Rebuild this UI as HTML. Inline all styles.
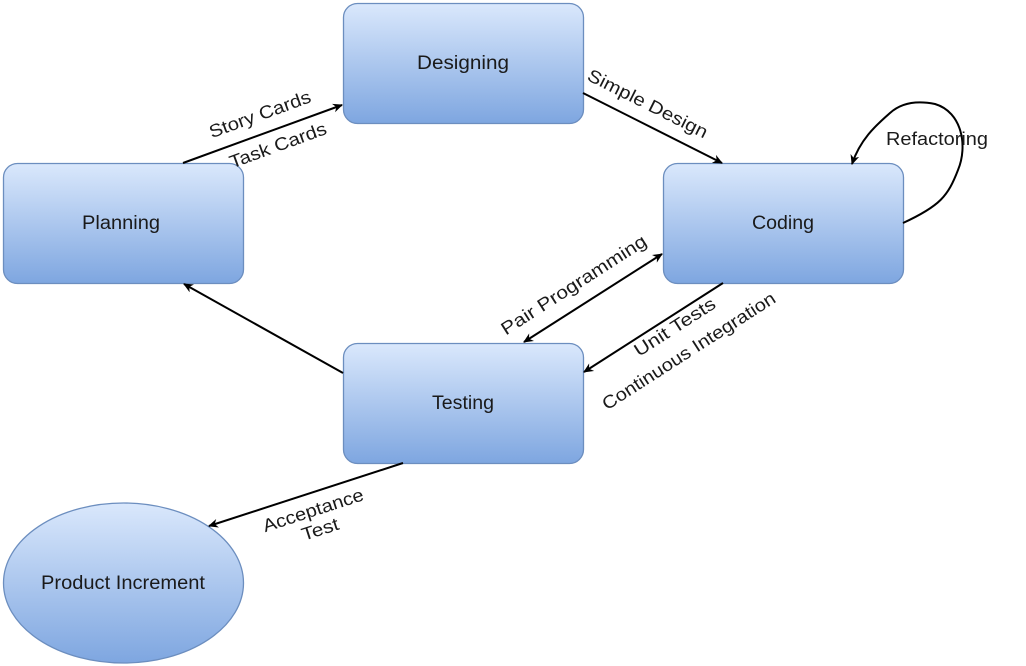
<!DOCTYPE html>
<html><head><meta charset="utf-8"><style>
html,body{margin:0;padding:0;background:#fff;}
svg{display:block;font-family:"Liberation Sans",Arial,sans-serif;}
</style></head><body>
<svg width="1026" height="666" viewBox="0 0 1026 666" xmlns="http://www.w3.org/2000/svg">
<defs>
<linearGradient id="g" x1="0" y1="0" x2="0" y2="1">
<stop offset="0" stop-color="#dae8fc"/><stop offset="1" stop-color="#7ea6e0"/>
</linearGradient>
<marker id="a" markerWidth="10" markerHeight="10" refX="9" refY="5" orient="auto" markerUnits="userSpaceOnUse">
<path d="M0,0.5 L10,5 L0,9.5 L3,5 Z" fill="#000"/>
</marker>
<marker id="s" markerWidth="10" markerHeight="10" refX="1" refY="5" orient="auto" markerUnits="userSpaceOnUse">
<path d="M10,0.5 L0,5 L10,9.5 L7,5 Z" fill="#000"/>
</marker>
</defs>
<g stroke="#6c8ebf" stroke-width="1.3" fill="url(#g)">
<rect x="343.5" y="3.5" width="240" height="120" rx="14"/>
<rect x="3.5" y="163.5" width="240" height="120" rx="14"/>
<rect x="663.5" y="163.5" width="240" height="120" rx="14"/>
<rect x="343.5" y="343.5" width="240" height="120" rx="14"/>
<ellipse cx="123.5" cy="583" rx="120" ry="80"/>
</g>
<g font-size="19" fill="#1a1a1a" text-anchor="middle" lengthAdjust="spacingAndGlyphs">
<text x="463" y="69" textLength="92" lengthAdjust="spacingAndGlyphs">Designing</text>
<text x="121" y="229" textLength="78" lengthAdjust="spacingAndGlyphs">Planning</text>
<text x="783" y="229" textLength="62" lengthAdjust="spacingAndGlyphs">Coding</text>
<text x="463" y="409" textLength="62" lengthAdjust="spacingAndGlyphs">Testing</text>
<text x="123" y="589" textLength="164" lengthAdjust="spacingAndGlyphs">Product Increment</text>
</g>
<g stroke="#000" stroke-width="2" fill="none">
<line x1="183" y1="163" x2="342" y2="105" marker-end="url(#a)"/>
<line x1="583" y1="93" x2="722" y2="163" marker-end="url(#a)"/>
<path d="M903,223 C 940,206 948,196 958,170 C 968,146 962,112 935,104 C 915,100 900,104 890,113 C 875,126 860,140 852,164" marker-end="url(#a)"/>
<line x1="524" y1="342" x2="662" y2="254" marker-start="url(#s)" marker-end="url(#a)"/>
<line x1="723" y1="283" x2="584" y2="372" marker-end="url(#a)"/>
<line x1="343" y1="373" x2="184" y2="284" marker-end="url(#a)"/>
<line x1="403" y1="463" x2="209" y2="526" marker-end="url(#a)"/>
</g>
<g font-size="18" fill="#1a1a1a" text-anchor="middle">
<text transform="translate(262,120) rotate(-20)" textLength="107" lengthAdjust="spacingAndGlyphs">Story Cards</text>
<text transform="translate(280,151) rotate(-20)" textLength="102" lengthAdjust="spacingAndGlyphs">Task Cards</text>
<text transform="translate(645,109) rotate(26.6)" textLength="132" lengthAdjust="spacingAndGlyphs">Simple Design</text>
<text x="937" y="145" textLength="102" lengthAdjust="spacingAndGlyphs">Refactoring</text>
<text transform="translate(577,290) rotate(-32.7)" textLength="169" lengthAdjust="spacingAndGlyphs">Pair Programming</text>
<text transform="translate(678,332) rotate(-32.7)" textLength="93" lengthAdjust="spacingAndGlyphs">Unit Tests</text>
<text transform="translate(692,356) rotate(-32.7)" textLength="202" lengthAdjust="spacingAndGlyphs">Continuous Integration</text>
<text transform="translate(315,516) rotate(-18)" textLength="105" lengthAdjust="spacingAndGlyphs">Acceptance</text>
<text transform="translate(322,535) rotate(-18)" textLength="38" lengthAdjust="spacingAndGlyphs">Test</text>
</g>
</svg>
</body></html>
